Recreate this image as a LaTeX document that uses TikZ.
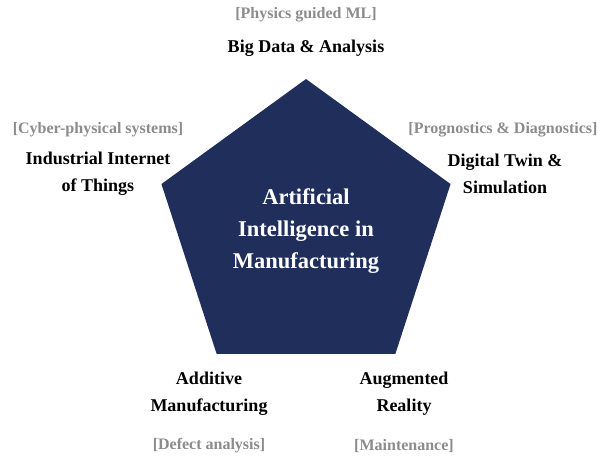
\documentclass[tikz,border=0pt]{standalone}
\usepackage{fontspec}
\setmainfont{Liberation Serif}
\usetikzlibrary{shapes}
\definecolor{navy}{RGB}{32,46,92}
\definecolor{labelgray}{RGB}{140,140,140}
\tikzstyle{topic} = [font=\fontsize{18}{27}\selectfont\bfseries, align=center]
\tikzstyle{app} = [font=\fontsize{16}{20}\selectfont\bfseries, text=labelgray, align=center]

\begin{document}
\begin{tikzpicture}[x=1pt,y=1pt]
\tikzstyle{core} = [regular polygon, regular polygon sides=5, minimum size=304pt,
  inner sep=0pt, fill=navy, text=white, align=center,
  font=\fontsize{22.5}{32}\selectfont\bfseries]
\useasboundingbox (0,0) rectangle (597,459);
\node[core](ai) at (306,228) {Artificial\\Intelligence in\\Manufacturing};
% top
\node[topic](bigdata) at (306,411) {Big Data \& Analysis};
\node[app](piml) at (306,444) {[Physics guided ML]};
% left and right
\node[topic](iiot) at (98,285) {Industrial Internet\\of Things};
\node[app](cps) at (98,329) {[Cyber-physical systems]};
\node[topic](twin) at (505,285) {Digital Twin \&\\Simulation};
\node[app](phm) at (503,329) {[Prognostics \& Diagnostics]};
% bottom
\node[topic](am) at (209,65) {Additive\\Manufacturing};
\node[app](defect) at (209,13) {[Defect analysis]};
\node[topic](ar) at (404,65) {Augmented\\Reality};
\node[app](maint) at (404,13) {[Maintenance]};
\end{tikzpicture}
\end{document}
